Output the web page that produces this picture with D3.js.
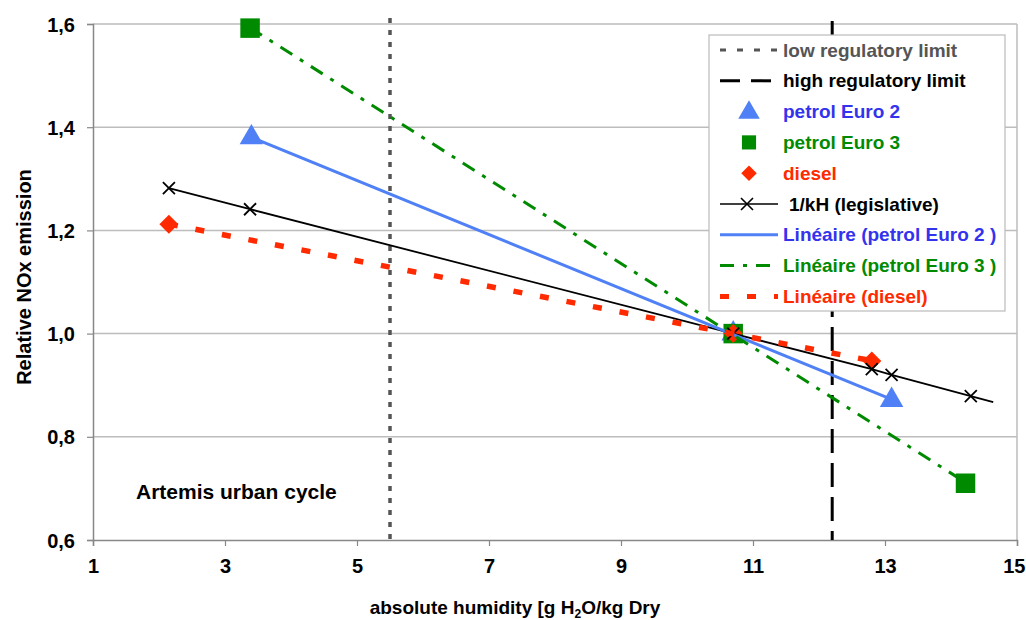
<!DOCTYPE html>
<html>
<head>
<meta charset="utf-8">
<script src="https://cdn.jsdelivr.net/npm/d3@7"></script>
<style>
  body { margin: 0; background: #fff; }
  svg { font-family: "Liberation Sans", Arial, sans-serif; font-weight: bold; }
</style>
</head>
<body>
<svg id="chart"></svg>
<script>
// data
const xTicks = [1, 3, 5, 7, 9, 11, 13, 15];
const yTicks = [0.6, 0.8, 1.0, 1.2, 1.4, 1.6];

const euro2X = [3.4, 10.7, 13.1];
const euro2Y = [1.38, 1.0, 0.871];

const euro3X = [3.38, 10.7, 14.22];
const euro3Y = [1.592, 1.0, 0.71];

const dieselX = [2.15, 10.7, 12.8];
const dieselY = [1.212, 1.0, 0.947];

const khX = [2.15, 3.38, 10.7, 12.8, 13.1, 14.3, 14.64];
const khY = [1.282, 1.241, 1.0, 0.931, 0.920, 0.879, 0.867];
const khMarker = [true, true, true, true, true, true, false];

const lowLimit = 5.5;
const highLimit = 12.2;

const legendLabels = [
  'low regulatory limit',
  'high regulatory limit',
  'petrol Euro 2',
  'petrol Euro 3',
  'diesel',
  '1/kH (legislative)',
  'Linéaire (petrol Euro 2 )',
  'Linéaire (petrol Euro 3 )',
  'Linéaire (diesel)'
];

const W = 1026, H = 620;
const margin = {top: 24, right: 9, bottom: 80, left: 93};

const BLUE = '#4f80f5', GREEN = '#008a00', RED = '#ff2a00';

const svg = d3.select('#chart').attr('width', W).attr('height', H);

const x = d3.scaleLinear().domain([1, 15]).range([margin.left, W - margin.right]);
const y = d3.scaleLinear().domain([0.6, 1.6]).range([H - margin.bottom, margin.top]);

// gridlines
svg.append('g').selectAll('line').data(yTicks.filter(d => d > 0.6))
  .enter().append('line')
    .attr('x1', x(1)).attr('x2', x(15))
    .attr('y1', d => y(d)).attr('y2', d => y(d))
    .attr('stroke', '#bdbdbd').attr('stroke-width', 1.5);

// right border
svg.append('line')
  .attr('x1', x(15)).attr('x2', x(15)).attr('y1', y(1.6)).attr('y2', y(0.6))
  .attr('stroke', '#bdbdbd').attr('stroke-width', 1.5);

// axes
const fmt = d => d3.format('.1f')(d).replace('.', ',');
const yAxis = svg.append('g').attr('transform', `translate(${x(1)},0)`)
  .call(d3.axisLeft(y).tickValues(yTicks).tickFormat(fmt).tickSizeOuter(0).tickSize(6).tickPadding(12));
const xAxis = svg.append('g').attr('transform', `translate(0,${y(0.6)})`)
  .call(d3.axisBottom(x).tickValues(xTicks).tickFormat(d3.format('d')).tickSizeOuter(0).tickSize(6).tickPadding(13));
[yAxis, xAxis].forEach(a => {
  a.select('.domain').attr('stroke', '#888').attr('stroke-width', 1.5);
  a.selectAll('.tick line').attr('stroke', '#888').attr('stroke-width', 1.2);
  a.selectAll('.tick text').attr('fill', '#000').attr('font-size', 20)
    .attr('font-family', '"Liberation Sans", Arial, sans-serif').attr('font-weight', 'bold');
});
yAxis.selectAll('.tick text').attr('dy', '0.35em');
// last x label would run off the edge
xAxis.selectAll('.tick').filter(d => d === 15).select('text')
  .attr('text-anchor', 'end').attr('x', 1025 - x(15));

// regulatory limits
svg.append('line')
  .attr('x1', x(lowLimit)).attr('x2', x(lowLimit)).attr('y1', 18).attr('y2', y(0.6))
  .attr('stroke', '#555').attr('stroke-width', 3.5).attr('stroke-dasharray', '5,7');
svg.append('line')
  .attr('x1', x(highLimit)).attr('x2', x(highLimit)).attr('y1', 21).attr('y2', y(0.6))
  .attr('stroke', '#000').attr('stroke-width', 3).attr('stroke-dasharray', '24,10');

// markers (series order: Euro 2, Euro 3, diesel)
const sym = (type, size) => d3.symbol().type(type).size(size)();
function drawPoints(xs, ys, type, size, color, rot) {
  svg.append('g').selectAll('path').data(xs.map((v, i) => [v, ys[i]]))
    .enter().append('path')
      .attr('d', sym(type, size))
      .attr('transform', d => `translate(${x(d[0])},${y(d[1])}) rotate(${rot || 0})`)
      .attr('fill', color);
}
drawPoints(euro2X, euro2Y, d3.symbolTriangle, 240, BLUE);
drawPoints(euro3X, euro3Y, d3.symbolSquare, 380, GREEN);
drawPoints(dieselX, dieselY, d3.symbolSquare, 180, RED, 45);

const line = d3.line().x(d => x(d[0])).y(d => y(d[1]));

// 1/kH
svg.append('path').attr('d', line(khX.map((v, i) => [v, khY[i]])))
  .attr('fill', 'none').attr('stroke', '#000').attr('stroke-width', 1.8);
const crossPath = 'M-6,-6L6,6M-6,6L6,-6';
svg.append('g').selectAll('path').data(khX.map((v, i) => [v, khY[i], khMarker[i]]).filter(d => d[2]))
  .enter().append('path')
    .attr('d', crossPath)
    .attr('transform', d => `translate(${x(d[0])},${y(d[1])})`)
    .attr('stroke', '#000').attr('stroke-width', 1.8).attr('fill', 'none');

// linear trend lines (least squares over the data span)
function trend(xs, ys) {
  const mx = d3.mean(xs), my = d3.mean(ys);
  const b = d3.sum(xs, (v, i) => (v - mx) * (ys[i] - my)) / d3.sum(xs, v => (v - mx) * (v - mx));
  const a = my - b * mx;
  const ext = d3.extent(xs);
  return ext.map(v => [v, a + b * v]);
}
svg.append('path').attr('d', line(trend(euro2X, euro2Y)))
  .attr('fill', 'none').attr('stroke', BLUE).attr('stroke-width', 3);
svg.append('path').attr('d', line(trend(euro3X, euro3Y)))
  .attr('fill', 'none').attr('stroke', GREEN).attr('stroke-width', 3).attr('stroke-dasharray', '14,9,4,9');
svg.append('path').attr('d', line(trend(dieselX, dieselY)))
  .attr('fill', 'none').attr('stroke', RED).attr('stroke-width', 5.5).attr('stroke-dasharray', '9,18');

// annotation
svg.append('text').attr('x', 136).attr('y', 499).attr('font-size', 21).attr('fill', '#000')
  .text('Artemis urban cycle');

// axis titles
const xt = svg.append('text').attr('x', 515).attr('y', 614).attr('text-anchor', 'middle')
  .attr('font-size', 19).attr('fill', '#000');
xt.append('tspan').text('absolute humidity [g H');
xt.append('tspan').attr('font-size', 12).attr('dy', 4).text('2');
xt.append('tspan').attr('dy', -4).text('O/kg Dry');

svg.append('text').attr('transform', 'translate(31,277) rotate(-90)').attr('text-anchor', 'middle')
  .attr('font-size', 20).attr('fill', '#000').text('Relative NOx emission');

// legend
const lg = svg.append('g');
lg.append('rect').attr('x', 709).attr('y', 35).attr('width', 296).attr('height', 276)
  .attr('fill', '#fff').attr('stroke', '#bbb').attr('stroke-width', 1.2);

const textColors = ['#555', '#000', '#3333ee', GREEN, RED, '#000', '#3333ee', GREEN, RED];
const rowY = i => 50 + i * 30.8;
legendLabels.forEach((t, i) => {
  lg.append('text').attr('x', i === 5 ? 789 : 783).attr('y', rowY(i)).attr('dy', '0.35em')
    .attr('font-size', 19).attr('fill', textColors[i]).text(t);
});
const lx1 = 720, lx2 = 778, lxm = 749;
const seg = (i, color, w, dash) => lg.append('line').attr('x1', lx1).attr('x2', lx2)
  .attr('y1', rowY(i)).attr('y2', rowY(i)).attr('stroke', color).attr('stroke-width', w)
  .attr('stroke-dasharray', dash);
seg(0, '#555', 3, '6,11');
seg(1, '#000', 3, '20,11');
lg.append('path').attr('d', sym(d3.symbolTriangle, 200)).attr('transform', `translate(${lxm},${rowY(2) + 1})`).attr('fill', BLUE);
lg.append('path').attr('d', sym(d3.symbolSquare, 200)).attr('transform', `translate(${lxm},${rowY(3)})`).attr('fill', GREEN);
lg.append('path').attr('d', sym(d3.symbolSquare, 120)).attr('transform', `translate(${lxm},${rowY(4)}) rotate(45)`).attr('fill', RED);
seg(5, '#000', 1.6, null);
lg.append('path').attr('d', crossPath).attr('transform', `translate(${lxm - 2},${rowY(5)})`)
  .attr('stroke', '#000').attr('stroke-width', 1.6);
seg(6, BLUE, 3, null);
seg(7, GREEN, 3, '14,9,4,9');
seg(8, RED, 5, '9,18');
</script>
</body>
</html>
